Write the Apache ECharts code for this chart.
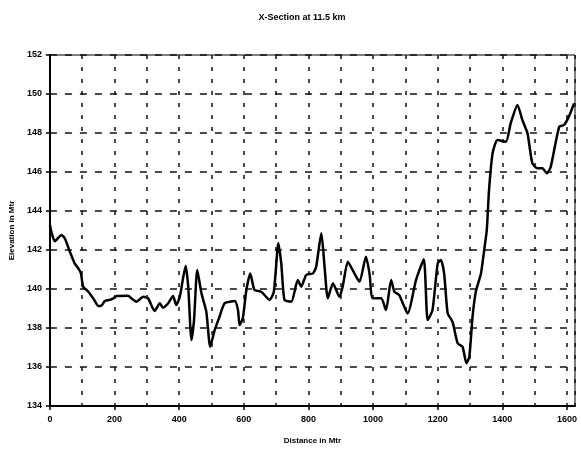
<!DOCTYPE html>
<html>
<head>
<meta charset="utf-8">
<title>X-Section at 11.5 km</title>
<script src="https://cdn.jsdelivr.net/npm/echarts@6/dist/echarts.min.js"></script>
<style>
  html, body { margin: 0; padding: 0; background: #fff; }
  #chart { width: 581px; height: 452px; }
</style>
</head>
<body>
<div id="chart"></div>
<script>
// Cross-section profile: distance along section (m) vs ground elevation (m)
const distance = [
  0, 5, 15, 36, 46, 62, 77, 88, 96, 103, 119, 134, 150, 158, 170, 185, 196, 206,
  242, 252, 268, 289, 304, 324, 340, 350, 366, 381, 391, 402, 420, 428, 438, 446,
  456, 469, 484, 496, 510, 525, 541, 572, 582, 587, 597, 608, 620, 633, 654, 680,
  693, 707, 716, 726, 747, 767, 778, 793, 814, 824, 840, 850, 860, 876, 896, 906,
  922, 937, 958, 978, 989, 999, 1025, 1040, 1056, 1066, 1081, 1107, 1133, 1157,
  1169, 1184, 1200, 1210, 1220, 1231, 1246, 1262, 1277, 1289, 1298, 1308, 1318,
  1334, 1344, 1352, 1359, 1370, 1385, 1411, 1426, 1447, 1462, 1478, 1493, 1509,
  1524, 1538, 1550, 1576, 1591, 1606, 1622
];
const elevation = [
  143.3, 142.9, 142.45, 142.77, 142.6, 141.9, 141.3, 141.06, 140.8, 140.12, 139.86,
  139.52, 139.13, 139.13, 139.38, 139.44, 139.52, 139.64, 139.66, 139.52, 139.35,
  139.6, 139.52, 138.87, 139.27, 139.04, 139.27, 139.64, 139.18, 139.6, 141.18,
  140.12, 137.38, 138.41, 140.97, 139.78, 138.84, 137.04, 137.9, 138.58, 139.27,
  139.38, 138.92, 138.15, 138.5, 139.95, 140.8, 139.95, 139.86, 139.44, 139.86,
  142.34, 141.3, 139.44, 139.35, 140.46, 140.12, 140.72, 140.8, 141.14, 142.86,
  141.14, 139.52, 140.29, 139.6, 140.12, 141.4, 140.97, 140.37, 141.66, 140.8,
  139.52, 139.52, 138.92, 140.46, 139.86, 139.69, 138.75, 140.46, 141.52, 138.41,
  138.92, 141.3, 141.49, 140.8, 138.75, 138.32, 137.21, 137.04, 136.19, 136.53,
  138.58, 139.86, 140.8, 142.0, 143.03, 145.08, 146.96, 147.64, 147.55, 148.5,
  149.44, 148.67, 147.98, 146.45, 146.19, 146.19, 145.93, 146.27, 148.32, 148.41,
  148.84, 149.52
];
const distanceRange = [0, 1625];
const distanceStep = 200;
const distanceGridStep = 100;
const elevationRange = [134, 152];
const elevationStep = 2;

const titleText = 'X-Section at 11.5 km';
const xName = 'Distance in Mtr';
const yName = 'Elevation in Mtr';

const points = distance.map((d, i) => [d, elevation[i]]);

const font = 'Liberation Sans, Arial, sans-serif';
const chart = echarts.init(document.getElementById('chart'), null, { renderer: 'canvas' });

chart.setOption({
  animation: false,
  backgroundColor: '#fff',
  title: {
    text: titleText,
    left: 297,
    textAlign: 'center',
    top: 8,
    textStyle: { fontFamily: font, fontSize: 9, fontWeight: 'bold', color: '#000' }
  },
  grid: {
    left: 48, right: 6, top: 55, bottom: 46,
    show: true, borderColor: '#000', borderWidth: 1, backgroundColor: 'transparent'
  },
  xAxis: [
    {
      type: 'value',
      min: distanceRange[0], max: distanceRange[1], interval: distanceStep,
      name: xName, nameLocation: 'middle', nameGap: 31,
      nameTextStyle: { fontFamily: font, fontSize: 8, fontWeight: 'bold', color: '#000' },
      axisLine: { show: true, lineStyle: { color: '#000', width: 2 } },
      axisTick: { show: true, length: 4, lineStyle: { color: '#000', width: 1.5 } },
      axisLabel: {
        showMaxLabel: false, margin: 9,
        formatter: v => String(v),
        fontFamily: font, fontSize: 9, fontWeight: 'bold', color: '#000'
      },
      splitLine: { show: false }
    },
    {
      // secondary axis carrying the 100 m grid lines only
      type: 'value', position: 'bottom',
      min: distanceRange[0], max: distanceRange[1], interval: distanceGridStep,
      axisLine: { show: false }, axisTick: { show: false }, axisLabel: { show: false },
      splitLine: { show: true, lineStyle: { color: '#111', width: 1.5, type: [4, 8] } }
    }
  ],
  yAxis: {
    type: 'value',
    min: elevationRange[0], max: elevationRange[1], interval: elevationStep,
    name: yName, nameLocation: 'middle', nameGap: 30, nameRotate: 90,
    nameTextStyle: { fontFamily: font, fontSize: 8, fontWeight: 'bold', color: '#000' },
    axisLine: { show: true, lineStyle: { color: '#000', width: 2 } },
    axisTick: { show: true, length: 4, lineStyle: { color: '#000', width: 1.5 } },
    axisLabel: { margin: 8, fontFamily: font, fontSize: 9, fontWeight: 'bold', color: '#000' },
    splitLine: { show: true, lineStyle: { color: '#111', width: 1.5, type: [7, 8] } }
  },
  series: [{
    type: 'line',
    xAxisIndex: 0,
    data: points,
    showSymbol: false,
    smooth: 0.2,
    lineStyle: { color: '#000', width: 2.5 },
    z: 5
  }]
});
</script>
</body>
</html>
